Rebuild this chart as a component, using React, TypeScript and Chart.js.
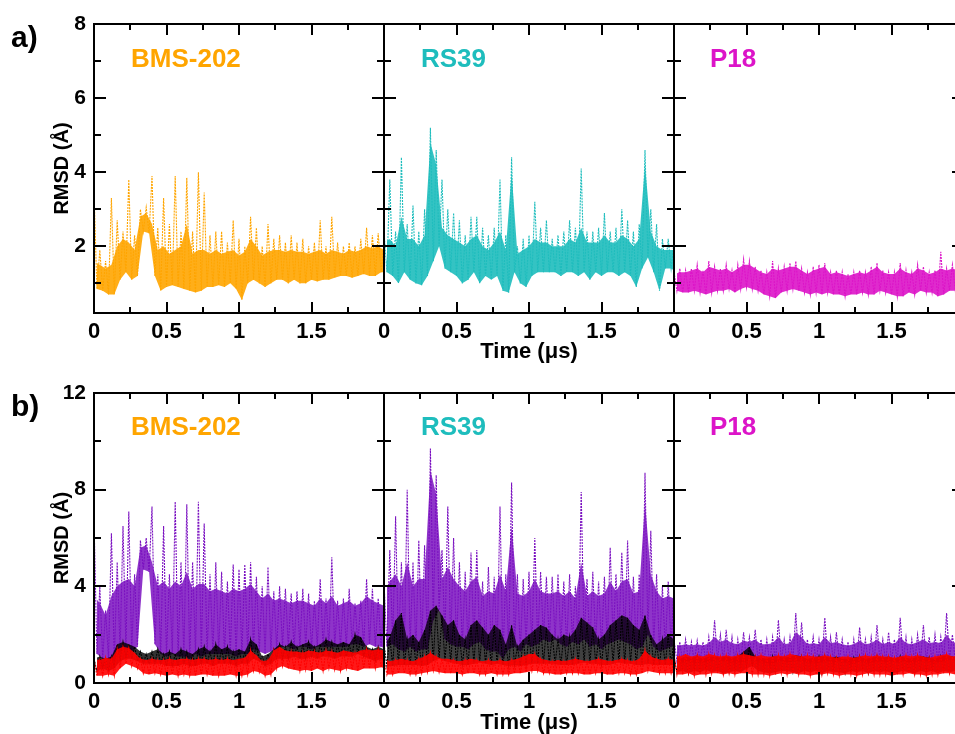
import React, { useEffect, useRef } from 'react';
import { Chart, registerables } from 'chart.js';

Chart.register(...registerables);

// ---------- sampling times (µs) ----------
const TIMES: number[] = Array.from({ length: 51 }, (_, i) => Math.round(i * 4) / 100);
const HALF_STEP = 0.02;

// ---------- a) ligand RMSD: spike tops (HI), dense-core tops (CORE), lower edge (LO) ----------
const BMS_A_HI = [3.5,1.9,1.6,3.3,2.7, 2.4,3.8,2.3,3.0,3.05, 3.9,2.5,3.3,2.6,3.9, 2.4,3.85,2.4,4.0,3.45, 2.3,2.4,2.4,2.1,2.7, 2.2,2.0,2.8,2.5,2.0, 2.6,2.2,2.3,2.1,2.3, 2.1,2.2,2.0,2.1,2.7, 2.0,2.8,2.1,2.0,2.1, 2.0,2.2,2.5,2.3,2.35, 2.1];
const BMS_A_CORE = [1.6,1.5,1.4,1.5,2.0, 2.2,2.1,1.9,2.8,2.9, 2.6,1.9,2.0,1.8,1.9, 2.0,2.6,1.8,1.9,1.9, 1.8,1.9,1.8,1.85,1.9, 1.75,1.85,2.2,2.0,1.75, 1.85,1.9,1.9,1.85,1.9, 1.85,1.85,1.8,1.85,1.9, 1.8,1.9,1.85,1.8,1.9, 1.85,1.9,2.0,1.95,2.0, 1.9];
const BMS_A_LO = [0.85,0.8,0.7,0.7,1.1, 1.3,1.1,1.2,2.4,2.35, 1.2,0.8,0.9,0.95,0.9, 0.85,0.8,0.75,0.8,0.9, 0.9,0.95,0.9,1.0,0.85, 0.55,1.0,1.1,1.0,0.9, 1.0,1.1,1.1,1.0,1.1, 1.0,1.0,1.1,1.05,1.1, 1.1,1.15,1.2,1.2,1.15, 1.2,1.25,1.2,1.2,1.3, 1.3];

const RS39_A_HI = [2.4,3.8,2.4,4.4,2.6, 3.1,2.4,3.0,5.2,4.6, 3.8,3.0,2.9,2.7,2.3, 2.8,2.8,2.5,2.3,2.5, 3.8,2.3,4.4,2.0,2.2, 2.3,3.2,2.5,2.7,2.2, 2.3,2.4,2.7,2.5,4.1, 2.4,2.4,2.5,2.9,2.4, 2.5,3.0,2.7,2.4,2.6, 4.6,3.0,2.6,2.2,2.2, 2.1];
const RS39_A_CORE = [2.1,2.2,2.0,2.8,2.2, 2.2,2.0,2.3,4.8,4.2, 2.5,2.3,2.2,2.1,2.0, 2.2,2.3,2.0,1.9,2.1, 2.4,1.9,4.0,1.8,1.9, 2.0,2.2,2.1,2.1,2.0, 2.0,2.0,2.2,2.1,2.5, 2.1,2.1,2.1,2.3,2.1, 2.1,2.3,2.2,2.0,2.2, 4.2,2.4,2.0,1.9,1.9, 1.9];
const RS39_A_LO = [1.3,1.2,1.0,1.3,1.1, 1.0,0.95,1.2,1.6,2.0, 1.4,1.3,1.2,1.0,1.1, 1.3,1.0,1.2,1.1,1.2, 0.8,0.75,1.3,1.0,0.9, 1.2,1.3,1.3,1.3,1.3, 1.2,1.3,1.3,1.2,1.3, 1.1,1.3,1.2,1.3,1.3, 1.2,1.3,1.2,0.9,1.4, 1.7,1.3,0.8,1.4,1.4, 1.3];

const P18_A_HI = [1.3,1.4,1.35,1.4,1.5, 1.35,1.6,1.45,1.4,1.5, 1.35,1.5,1.65,1.6,1.45, 1.35,1.3,1.6,1.4,1.45, 1.55,1.6,1.4,1.3,1.45, 1.5,1.55,1.3,1.35,1.3, 1.25,1.3,1.35,1.3,1.45, 1.55,1.35,1.3,1.3,1.55, 1.35,1.3,1.5,1.45,1.3, 1.35,1.85,1.4,1.5,1.4, 1.3];
const P18_A_CORE = [1.25,1.3,1.3,1.35,1.4, 1.3,1.45,1.4,1.35,1.4, 1.3,1.4,1.5,1.5,1.4, 1.3,1.25,1.4,1.35,1.4, 1.45,1.45,1.35,1.25,1.35, 1.4,1.45,1.25,1.3,1.25, 1.2,1.25,1.3,1.25,1.35, 1.45,1.3,1.25,1.25,1.4, 1.3,1.25,1.4,1.35,1.25, 1.3,1.4,1.35,1.4,1.35, 1.25];
const P18_A_LO = [0.8,0.75,0.75,0.8,0.75, 0.7,0.75,0.8,0.8,0.85, 0.75,0.85,0.9,0.85,0.8, 0.7,0.65,0.6,0.75,0.8, 0.85,0.8,0.75,0.7,0.75, 0.7,0.75,0.7,0.7,0.65, 0.7,0.7,0.75,0.7,0.7, 0.8,0.75,0.7,0.65,0.65, 0.75,0.7,0.8,0.75,0.75, 0.65,0.7,0.8,0.8,0.8, 0.8];

// ---------- b) BMS-202 ----------
const BMS_B_PURPLE_HI = [6.8,4.0,3.0,6.2,5.0, 6.5,7.1,4.5,5.9,6.0, 7.3,4.5,6.5,4.5,7.5, 5.0,7.4,5.0,7.5,6.6, 4.5,5.0,4.6,4.2,4.9, 4.7,4.9,5.0,4.4,4.0, 4.8,3.8,4.0,3.9,3.7, 3.8,3.9,3.7,3.4,4.3, 3.5,5.2,3.4,3.5,3.9, 3.3,3.4,4.3,3.9,3.5, 3.4];
const BMS_B_PURPLE_CORE = [3.6,3.3,2.8,3.6,4.0, 4.2,4.3,4.0,5.6,5.7, 5.0,4.0,4.2,3.9,4.2, 4.0,4.6,3.9,4.1,4.1, 3.8,3.9,3.8,3.7,3.9, 3.8,3.9,4.1,3.8,3.5, 3.7,3.4,3.5,3.4,3.3, 3.4,3.4,3.3,3.2,3.5, 3.3,3.6,3.2,3.3,3.4, 3.2,3.3,3.6,3.4,3.3, 3.2];
const BMS_B_PURPLE_LO = [1.2,1.0,1.0,0.9,1.3, 1.4,1.3,1.5,4.7,4.6, 1.6,1.2,1.1,1.2,1.1, 1.1,1.0,1.2,1.1,1.2, 1.2,1.2,1.2,1.2,1.1, 1.2,1.2,1.4,1.3,1.2, 1.3,1.4,1.5,1.5,1.4, 1.5,1.5,1.4,1.5,1.5, 1.5,1.5,1.5,1.5,1.6, 1.6,1.5,1.6,1.5,1.5, 1.4];
const BMS_B_BLACK_HI = [1.0,1.1,1.0,1.1,1.6, 1.7,1.6,1.5,1.3,1.2, 1.3,1.4,1.2,1.3,1.2, 1.4,1.3,1.2,1.4,1.5, 1.3,1.6,1.4,1.5,1.3, 1.4,1.3,1.8,1.6,1.1, 1.2,1.4,1.6,1.5,1.7, 1.5,1.6,1.7,1.5,1.6, 1.8,1.7,1.6,1.7,1.6, 2.0,1.9,1.5,1.4,1.5, 1.4];
const BMS_B_BLACK_LO = [0.5,0.6,0.5,0.6,0.9, 1.0,1.0,0.9,0.8,0.8, 0.8,0.8,0.7,0.7,0.7, 0.8,0.7,0.7,0.8,0.8, 0.7,0.8,0.8,0.8,0.7, 0.8,0.8,1.0,0.9,0.7, 0.8,1.0,1.0,1.0,1.1, 1.0,1.0,1.1,1.0,1.1, 1.1,1.0,1.1,1.1,1.1, 1.2,1.1,1.0,0.9,1.0, 0.9];
const BMS_B_RED_HI = [1.0,0.95,1.05,1.0,1.4, 1.5,1.45,1.25,1.0,0.95, 1.0,0.95,0.95,1.0,0.95, 1.0,1.0,0.95,1.0,1.0, 0.95,1.0,0.95,1.0,0.95, 1.0,1.05,1.35,1.15,0.9, 0.95,1.35,1.5,1.35,1.3, 1.3,1.25,1.35,1.3,1.25, 1.35,1.3,1.25,1.35,1.3, 1.25,1.35,1.4,1.35,1.4, 1.35];
const BMS_B_RED_LO = [0.3,0.3,0.35,0.3,0.6, 0.8,0.7,0.6,0.4,0.35, 0.4,0.35,0.3,0.35,0.3, 0.35,0.3,0.3,0.35,0.35, 0.3,0.3,0.3,0.35,0.3, 0.3,0.35,0.5,0.45,0.3, 0.35,0.6,0.7,0.6,0.55, 0.5,0.55,0.5,0.6,0.5, 0.6,0.55,0.5,0.6,0.55, 0.5,0.6,0.6,0.6,0.65, 0.6];

// ---------- b) RS39 ----------
const RS39_B_PURPLE_HI = [4.2,5.5,6.9,5.0,8.0, 5.0,5.9,5.7,9.7,8.6, 5.5,7.3,6.0,5.0,4.6, 5.4,5.5,4.2,4.8,4.4, 7.3,4.5,8.3,4.5,4.3, 4.6,6.0,4.6,4.4,4.4, 4.5,4.2,4.5,4.0,7.9, 4.3,4.6,4.2,4.4,5.6, 4.5,5.4,5.9,4.4,4.5, 8.7,6.3,4.5,4.0,4.2, 4.0];
const RS39_B_PURPLE_CORE = [3.8,4.2,4.5,4.0,5.0, 4.0,4.3,4.3,8.8,7.8, 4.3,4.8,4.3,4.0,3.8, 4.2,4.4,3.6,3.8,3.7, 4.5,3.8,6.5,3.7,3.6, 3.8,4.3,3.8,3.7,3.7, 3.8,3.6,3.8,3.5,5.0, 3.6,3.8,3.6,3.7,4.2, 3.8,4.2,4.3,3.7,3.8, 7.5,4.5,3.8,3.5,3.6, 3.5];
const RS39_B_PURPLE_LO = [1.5,1.6,1.4,1.3,1.5, 1.3,1.4,1.4,2.6,3.0, 1.8,1.6,1.5,1.5,1.4, 1.6,1.7,1.4,1.3,1.3, 1.0,1.4,1.5,1.3,1.6, 1.5,1.6,1.8,1.7,1.8, 1.6,1.5,1.7,1.6,1.8, 1.5,1.6,1.4,1.6,1.7, 1.8,1.7,1.6,1.4,1.5, 2.0,1.5,1.3,1.4,1.5, 1.6];
const RS39_B_BLACK_HI = [1.6,1.9,2.6,2.9,1.8, 2.0,1.7,2.2,3.0,3.2, 2.8,2.4,2.6,2.0,1.8, 2.4,2.6,2.3,2.0,2.4, 2.2,1.6,2.4,1.5,1.8, 2.0,2.2,2.4,2.3,2.0, 1.8,2.0,1.9,2.2,2.7, 2.5,2.3,1.8,2.0,2.4, 2.6,2.8,2.7,2.4,2.2, 2.8,2.0,1.6,1.8,2.0, 1.8];
const RS39_B_BLACK_LO = [0.7,0.7,0.75,0.75,0.75, 0.75,0.7,0.75,0.9,1.0, 0.9,0.85,0.8,0.75,0.75, 0.8,0.85,0.8,0.75,0.8, 0.75,0.7,0.75,0.7,0.75, 0.8,0.8,0.8,0.8,0.8, 0.75,0.75,0.75,0.8,0.85, 0.8,0.8,0.75,0.75,0.8, 0.85,0.8,0.8,0.75,0.75, 0.8,0.75,0.75,0.75,0.75, 0.75];
const RS39_B_RED_HI = [1.0,0.9,0.95,1.0,0.95, 0.9,1.0,1.1,1.25,1.1, 1.0,1.0,0.95,0.9,0.95, 1.0,0.95,0.9,0.95,0.9, 0.95,0.9,0.95,1.0,1.1, 1.2,1.2,1.0,0.95,0.9, 0.95,0.9,0.95,1.0,0.95, 0.9,0.95,1.0,0.95,0.9, 0.95,1.0,0.95,0.9,1.0, 1.35,1.1,1.0,0.95,1.0, 0.95];
const RS39_B_RED_LO = [0.35,0.35,0.4,0.4,0.35, 0.35,0.4,0.45,0.5,0.45, 0.4,0.4,0.4,0.35,0.4, 0.4,0.35,0.35,0.4,0.35, 0.35,0.35,0.4,0.4,0.45, 0.5,0.5,0.4,0.4,0.35, 0.35,0.4,0.4,0.4,0.35, 0.35,0.4,0.4,0.35,0.35, 0.4,0.4,0.35,0.35,0.4, 0.5,0.45,0.4,0.4,0.4, 0.4];

// ---------- b) P18 ----------
const P18_B_PURPLE_HI = [1.8,1.7,1.8,1.7,1.75, 1.7,1.9,2.6,2.0,2.2, 1.9,1.8,2.1,1.9,2.2, 1.8,1.8,1.9,2.6,1.8, 1.9,2.9,2.5,1.8,1.9, 1.8,2.7,1.9,2.1,1.8, 1.7,1.8,2.3,1.8,1.9, 2.4,1.8,2.1,1.8,2.7, 1.9,1.8,2.0,2.4,1.9, 2.0,1.9,2.9,2.0,1.9, 1.8];
const P18_B_PURPLE_CORE = [1.6,1.55,1.6,1.55,1.6, 1.55,1.65,1.9,1.7,1.8, 1.65,1.6,1.75,1.7,1.8, 1.6,1.6,1.65,1.9,1.6, 1.65,2.1,1.9,1.6,1.65, 1.6,1.9,1.65,1.7,1.6, 1.55,1.6,1.75,1.6,1.65, 1.8,1.6,1.7,1.6,1.9, 1.65,1.6,1.7,1.8,1.65, 1.7,1.65,2.0,1.7,1.65, 1.6];
const P18_B_PURPLE_LO = [0.9,0.85,0.9,0.85,0.9, 0.85,0.9,0.95,0.9,0.9, 0.85,0.85,0.9,1.0,0.9, 0.85,0.8,0.85,0.9,0.85, 0.9,0.9,0.9,0.85,0.85, 0.85,0.9,0.85,0.9,0.85, 0.8,0.85,0.9,0.85,0.85, 0.9,0.85,0.9,0.85,0.9, 0.85,0.85,0.9,0.9,0.85, 0.85,0.9,0.95,0.9,0.85, 0.85];
const P18_B_BLACK_HI = [1.1,1.0,1.1,1.05,1.1, 1.0,1.1,1.1,1.05,1.1, 1.05,1.1,1.3,1.5,1.1, 1.05,1.0,1.1,1.1,1.05, 1.1,1.15,1.1,1.0,1.05, 1.1,1.1,1.05,1.1,1.0, 1.0,1.05,1.1,1.0,1.05, 1.1,1.05,1.1,1.0,1.1, 1.05,1.0,1.1,1.1,1.05, 1.0,1.1,1.15,1.1,1.05, 1.0];
const P18_B_BLACK_LO = [0.45,0.5,0.4,0.5,0.45, 0.55,0.45,0.5,0.4,0.45, 0.5,0.45,0.6,0.7,0.5, 0.45,0.4,0.45,0.5,0.5, 0.45,0.4,0.5,0.45,0.5, 0.4,0.5,0.45,0.45,0.4, 0.5,0.45,0.5,0.4,0.5, 0.45,0.5,0.4,0.45,0.5, 0.45,0.4,0.5,0.45,0.5, 0.4,0.5,0.45,0.5,0.45, 0.5];
const P18_B_RED_HI = [1.15,1.1,1.2,1.1,1.15, 1.1,1.2,1.15,1.1,1.15, 1.1,1.15,1.2,1.15,1.1, 1.15,1.1,1.1,1.15,1.1, 1.2,1.15,1.1,1.15,1.1, 1.1,1.15,1.1,1.05,1.1, 1.1,1.05,1.1,1.15,1.1, 1.15,1.1,1.1,1.05,1.1, 1.15,1.1,1.15,1.1,1.05, 1.1,1.15,1.2,1.1,1.15, 1.1];
const P18_B_RED_LO = [0.35,0.35,0.4,0.3,0.35, 0.35,0.4,0.4,0.35,0.4, 0.35,0.4,0.4,0.35,0.35, 0.35,0.3,0.35,0.4,0.35, 0.4,0.35,0.35,0.3,0.35, 0.35,0.4,0.35,0.3,0.35, 0.35,0.3,0.35,0.4,0.35, 0.35,0.35,0.3,0.35,0.35, 0.4,0.35,0.35,0.3,0.35, 0.35,0.4,0.4,0.35,0.35, 0.35];

// ---------- ticks ----------
const X_LABELED = [0, 0.5, 1, 1.5];
const X_MAJOR = [0.5, 1, 1.5];
const X_MINOR = [0.25, 0.75, 1.25, 1.75];
const Y_A_MAJOR = [2, 4, 6, 8];
const Y_A_MINOR = [1, 3, 5, 7];
const Y_B_MAJOR = [0, 4, 8, 12];
const Y_B_MINOR = [2, 6, 10];

const NAMES = ['BMS-202', 'RS39', 'P18'];
const NAME_COLORS = ['#FFA500', '#1EBDBD', '#DC14C8'];
const PURPLE = '#7A10C0';
const BLACK = '#000000';
const RED = '#FF0000';

const FONT = "'Liberation Sans', Arial, Helvetica, sans-serif";

type Series = { hi: number[]; core: number[]; lo: number[]; color: string; alpha: number };
type Row = {
  top: number; height: number; padTop: number; plotH: number;
  yMin: number; yMax: number; yMajor: number[]; yMinor: number[]; xTitlePad: number;
};

const ROW_A: Row = { top: 0, height: 370, padTop: 24, plotH: 289, yMin: 0.2, yMax: 8, yMajor: Y_A_MAJOR, yMinor: Y_A_MINOR, xTitlePad: 4.5 };
const ROW_B: Row = { top: 370, height: 376, padTop: 23, plotH: 290, yMin: 0, yMax: 12, yMajor: Y_B_MAJOR, yMinor: Y_B_MINOR, xTitlePad: 9.5 };

const ROW_A_SERIES: Series[][] = [
  [{ hi: BMS_A_HI, core: BMS_A_CORE, lo: BMS_A_LO, color: NAME_COLORS[0], alpha: 0.9 }],
  [{ hi: RS39_A_HI, core: RS39_A_CORE, lo: RS39_A_LO, color: NAME_COLORS[1], alpha: 0.9 }],
  [{ hi: P18_A_HI, core: P18_A_CORE, lo: P18_A_LO, color: NAME_COLORS[2], alpha: 0.9 }],
];
const ROW_B_SERIES: Series[][] = [
  [
    { hi: BMS_B_RED_HI, core: BMS_B_RED_HI, lo: BMS_B_RED_LO, color: RED, alpha: 0.9 },
    { hi: BMS_B_BLACK_HI, core: BMS_B_BLACK_HI, lo: BMS_B_BLACK_LO, color: BLACK, alpha: 0.8 },
    { hi: BMS_B_PURPLE_HI, core: BMS_B_PURPLE_CORE, lo: BMS_B_PURPLE_LO, color: PURPLE, alpha: 0.85 },
  ],
  [
    { hi: RS39_B_RED_HI, core: RS39_B_RED_HI, lo: RS39_B_RED_LO, color: RED, alpha: 0.9 },
    { hi: RS39_B_BLACK_HI, core: RS39_B_BLACK_HI, lo: RS39_B_BLACK_LO, color: BLACK, alpha: 0.75 },
    { hi: RS39_B_PURPLE_HI, core: RS39_B_PURPLE_CORE, lo: RS39_B_PURPLE_LO, color: PURPLE, alpha: 0.85 },
  ],
  [
    { hi: P18_B_RED_HI, core: P18_B_RED_HI, lo: P18_B_RED_LO, color: RED, alpha: 0.9 },
    { hi: P18_B_BLACK_HI, core: P18_B_BLACK_HI, lo: P18_B_BLACK_LO, color: BLACK, alpha: 0.8 },
    { hi: P18_B_PURPLE_HI, core: P18_B_PURPLE_CORE, lo: P18_B_PURPLE_LO, color: PURPLE, alpha: 0.85 },
  ],
];

const PLOT_LEFT = 94;
const PANEL_W = 290;
const PAD_RIGHT = 30;
const CANVAS_W = PLOT_LEFT + PANEL_W + PAD_RIGHT;

function zigzag(hi: number[], lo: number[]) {
  const pts: { x: number; y: number }[] = [];
  TIMES.forEach((t, i) => {
    pts.push({ x: t, y: hi[i] });
    pts.push({ x: t + HALF_STEP, y: lo[i] });
  });
  return pts;
}

function envelope(vals: number[], shift: number) {
  return TIMES.map((t, i) => ({ x: t + shift, y: vals[i] }));
}

function withAlpha(hex: string, a: number) {
  const r = parseInt(hex.slice(1, 3), 16);
  const g = parseInt(hex.slice(3, 5), 16);
  const b = parseInt(hex.slice(5, 7), 16);
  return `rgba(${r},${g},${b},${a})`;
}

function buildDatasets(series: Series[]) {
  const out: any[] = [];
  series.forEach((s) => {
    // dotted zigzag trace between spike tops and lower edge (on top of the band)
    out.push({
      data: zigzag(s.hi, s.lo),
      borderColor: s.color,
      borderWidth: 1.1,
      borderDash: [2, 1],
      pointRadius: 0,
      tension: 0,
      fill: false,
    });
    // dense core: top edge, filled down to the lower edge
    out.push({
      data: envelope(s.core, 0),
      borderWidth: 0,
      borderColor: 'rgba(0,0,0,0)',
      backgroundColor: withAlpha(s.color, s.alpha),
      pointRadius: 0,
      tension: 0,
      fill: '+1',
    });
    out.push({
      data: envelope(s.lo, HALF_STEP),
      borderWidth: 0,
      borderColor: 'rgba(0,0,0,0)',
      pointRadius: 0,
      tension: 0,
      fill: false,
    });
  });
  return out;
}

function Panel({ row, index, series }: { row: Row; index: number; series: Series[] }) {
  const ref = useRef<HTMLCanvasElement | null>(null);
  useEffect(() => {
    if (!ref.current) return;
    const first = index === 0;
    const middle = index === 1;
    const frame = {
      id: 'frame',
      afterDatasetsDraw(chart: any) {
        const { ctx, chartArea, scales } = chart;
        const { left, right, top, bottom } = chartArea;
        const x = scales.x;
        const y = scales.y;
        ctx.save();
        ctx.setLineDash([]);
        ctx.strokeStyle = '#000';
        ctx.lineWidth = 2;
        ctx.strokeRect(left, top, right - left, bottom - top);
        ctx.beginPath();
        const xt = (vals: number[], len: number) => {
          vals.forEach((v) => {
            const px = Math.round(x.getPixelForValue(v));
            ctx.moveTo(px, bottom); ctx.lineTo(px, bottom - len);
            ctx.moveTo(px, top); ctx.lineTo(px, top + len);
          });
        };
        const yt = (vals: number[], len: number) => {
          vals.forEach((v) => {
            const py = Math.round(y.getPixelForValue(v));
            ctx.moveTo(left, py); ctx.lineTo(left + len, py);
            ctx.moveTo(right, py); ctx.lineTo(right - len, py);
          });
        };
        xt(X_MAJOR, 11);
        xt(X_MINOR, 6);
        yt(row.yMajor, 12);
        yt(row.yMinor, 7);
        ctx.stroke();
        ctx.restore();
      },
    };
    const chart = new Chart(ref.current, {
      type: 'line',
      data: { datasets: buildDatasets(series) },
      options: {
        animation: false,
        responsive: false,
        maintainAspectRatio: false,
        devicePixelRatio: 1,
        events: [],
        layout: { padding: { top: row.padTop, right: PAD_RIGHT, left: 0, bottom: 0 } },
        plugins: {
          legend: { display: false },
          tooltip: { enabled: false },
          title: { display: false },
          filler: { propagate: false },
        },
        scales: {
          x: {
            type: 'linear',
            min: 0,
            max: 2,
            grid: { display: false, drawTicks: false },
            border: { display: false },
            afterBuildTicks: (s: any) => { s.ticks = X_LABELED.map((v) => ({ value: v })); },
            afterFit: (s: any) => { s.height = row.height - row.padTop - row.plotH; },
            ticks: {
              autoSkip: false,
              maxRotation: 0,
              minRotation: 0,
              padding: 6,
              color: '#000',
              font: { family: FONT, size: 22, weight: 'bold' },
              callback: (v: any) => String(v),
            },
            title: {
              display: middle,
              text: 'Time (μs)',
              color: '#000',
              font: { family: FONT, size: 22, weight: 'bold' },
              padding: { top: 0, bottom: row.xTitlePad },
            },
          },
          y: {
            type: 'linear',
            min: row.yMin,
            max: row.yMax,
            grid: { display: false, drawTicks: false },
            border: { display: false },
            afterBuildTicks: (s: any) => { s.ticks = row.yMajor.map((v) => ({ value: v })); },
            afterFit: (s: any) => { s.width = PLOT_LEFT; },
            ticks: {
              display: first,
              padding: 8,
              color: '#000',
              font: { family: FONT, size: 21, weight: 'bold' },
              callback: (v: any) => String(v),
            },
            title: {
              display: first,
              text: 'RMSD (Å)',
              color: '#000',
              font: { family: FONT, size: 20, weight: 'bold' },
              padding: { top: 50, bottom: 0 },
            },
          },
        },
      },
      plugins: [frame],
    } as any);
    return () => chart.destroy();
  }, [row, index, series]);
  return (
    <canvas
      ref={ref}
      width={CANVAS_W}
      height={row.height}
      style={{ position: 'absolute', left: PANEL_W * index, top: row.top, width: CANVAS_W, height: row.height }}
    />
  );
}

const textBase: React.CSSProperties = {
  position: 'absolute',
  fontFamily: FONT,
  fontWeight: 'bold',
  lineHeight: 1,
  whiteSpace: 'nowrap',
  margin: 0,
};

const NAME_LEFTS = [131, 421, 710];

export default function App() {
  return (
    <div style={{ position: 'fixed', left: 0, top: 0, width: 955, height: 734, overflow: 'hidden', background: '#fff' }}>
      {ROW_A_SERIES.map((s, i) => (
        <Panel key={'a' + i} row={ROW_A} index={i} series={s} />
      ))}
      {ROW_B_SERIES.map((s, i) => (
        <Panel key={'b' + i} row={ROW_B} index={i} series={s} />
      ))}
      <div style={{ ...textBase, left: 11, top: 22, fontSize: 30, color: '#000' }}>a)</div>
      <div style={{ ...textBase, left: 11, top: 391, fontSize: 30, color: '#000' }}>b)</div>
      {NAMES.map((n, i) => (
        <div key={'na' + i} style={{ ...textBase, left: NAME_LEFTS[i], top: 45, fontSize: 26, color: NAME_COLORS[i] }}>{n}</div>
      ))}
      {NAMES.map((n, i) => (
        <div key={'nb' + i} style={{ ...textBase, left: NAME_LEFTS[i], top: 413, fontSize: 26, color: NAME_COLORS[i] }}>{n}</div>
      ))}
    </div>
  );
}
